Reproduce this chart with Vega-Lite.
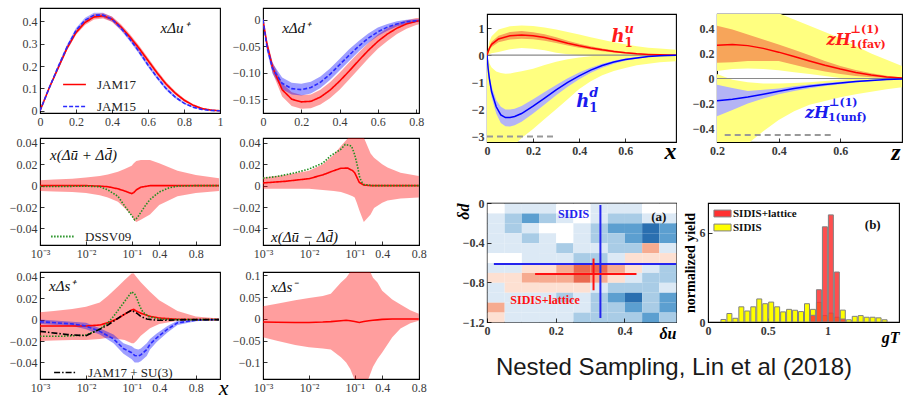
{
"$schema":"https://vega.github.io/schema/vega-lite/v6.json",
"background":"white",
"padding":{"left":8,"top":7,"right":0,"bottom":0},
"config":{
 "view":{"stroke":"#000","strokeWidth":1.1},
 "axis":{"grid":false,"domain":false,"tickSize":-4,"tickColor":"#000","tickWidth":0.8,"labelFont":"Liberation Serif","labelFontSize":12,"labelColor":"#3a3a3a","labelPadding":7,"labelFlush":false,"labelOverlap":false,"labelSeparation":0,"titleFont":"Liberation Serif","titleColor":"#000","titleFontWeight":"normal"},
 "text":{"font":"Liberation Serif"}
},
"datasets":{
 "one":[{"k":1}],
 "p1":[
  {"x":0,"s":"JAM17","y":0,"lo":0,"hi":0},{"x":0.05,"s":"JAM17","y":0.1,"lo":0.095,"hi":0.105},{"x":0.1,"s":"JAM17","y":0.19,"lo":0.182,"hi":0.198},{"x":0.15,"s":"JAM17","y":0.28,"lo":0.27,"hi":0.29},{"x":0.2,"s":"JAM17","y":0.35,"lo":0.34,"hi":0.36},{"x":0.25,"s":"JAM17","y":0.395,"lo":0.384,"hi":0.406},{"x":0.3,"s":"JAM17","y":0.42,"lo":0.408,"hi":0.432},{"x":0.35,"s":"JAM17","y":0.425,"lo":0.413,"hi":0.437},{"x":0.4,"s":"JAM17","y":0.41,"lo":0.398,"hi":0.422},{"x":0.45,"s":"JAM17","y":0.375,"lo":0.363,"hi":0.387},{"x":0.5,"s":"JAM17","y":0.33,"lo":0.318,"hi":0.342},{"x":0.55,"s":"JAM17","y":0.28,"lo":0.268,"hi":0.292},{"x":0.6,"s":"JAM17","y":0.225,"lo":0.213,"hi":0.237},{"x":0.65,"s":"JAM17","y":0.17,"lo":0.159,"hi":0.181},{"x":0.7,"s":"JAM17","y":0.12,"lo":0.11,"hi":0.13},{"x":0.75,"s":"JAM17","y":0.08,"lo":0.072,"hi":0.088},{"x":0.8,"s":"JAM17","y":0.048,"lo":0.041,"hi":0.055},{"x":0.85,"s":"JAM17","y":0.025,"lo":0.02,"hi":0.03},{"x":0.9,"s":"JAM17","y":0.01,"lo":0.006,"hi":0.014},{"x":0.95,"s":"JAM17","y":0.003,"lo":0.001,"hi":0.005},{"x":1,"s":"JAM17","y":0,"lo":0,"hi":0.001},
  {"x":0,"s":"JAM15","y":0,"lo":0,"hi":0},{"x":0.05,"s":"JAM15","y":0.1,"lo":0.094,"hi":0.106},{"x":0.1,"s":"JAM15","y":0.195,"lo":0.186,"hi":0.204},{"x":0.15,"s":"JAM15","y":0.285,"lo":0.275,"hi":0.295},{"x":0.2,"s":"JAM15","y":0.36,"lo":0.349,"hi":0.371},{"x":0.25,"s":"JAM15","y":0.405,"lo":0.394,"hi":0.416},{"x":0.3,"s":"JAM15","y":0.428,"lo":0.417,"hi":0.439},{"x":0.35,"s":"JAM15","y":0.428,"lo":0.417,"hi":0.439},{"x":0.4,"s":"JAM15","y":0.41,"lo":0.399,"hi":0.421},{"x":0.45,"s":"JAM15","y":0.37,"lo":0.359,"hi":0.381},{"x":0.5,"s":"JAM15","y":0.32,"lo":0.31,"hi":0.33},{"x":0.55,"s":"JAM15","y":0.265,"lo":0.255,"hi":0.275},{"x":0.6,"s":"JAM15","y":0.205,"lo":0.196,"hi":0.214},{"x":0.65,"s":"JAM15","y":0.15,"lo":0.142,"hi":0.158},{"x":0.7,"s":"JAM15","y":0.1,"lo":0.093,"hi":0.107},{"x":0.75,"s":"JAM15","y":0.062,"lo":0.056,"hi":0.068},{"x":0.8,"s":"JAM15","y":0.034,"lo":0.03,"hi":0.038},{"x":0.85,"s":"JAM15","y":0.016,"lo":0.013,"hi":0.019},{"x":0.9,"s":"JAM15","y":0.006,"lo":0.004,"hi":0.008},{"x":0.95,"s":"JAM15","y":0.001,"lo":0,"hi":0.002},{"x":1,"s":"JAM15","y":0,"lo":0,"hi":0}
 ],
 "p2":[
  {"x":0,"s":"JAM17","y":0,"lo":0,"hi":0},{"x":0.02,"s":"JAM17","y":-0.045,"lo":-0.052,"hi":-0.038},{"x":0.05,"s":"JAM17","y":-0.09,"lo":-0.1,"hi":-0.08},{"x":0.1,"s":"JAM17","y":-0.132,"lo":-0.145,"hi":-0.12},{"x":0.15,"s":"JAM17","y":-0.15,"lo":-0.163,"hi":-0.137},{"x":0.2,"s":"JAM17","y":-0.155,"lo":-0.168,"hi":-0.142},{"x":0.25,"s":"JAM17","y":-0.154,"lo":-0.167,"hi":-0.141},{"x":0.3,"s":"JAM17","y":-0.146,"lo":-0.16,"hi":-0.132},{"x":0.35,"s":"JAM17","y":-0.133,"lo":-0.148,"hi":-0.118},{"x":0.4,"s":"JAM17","y":-0.116,"lo":-0.132,"hi":-0.1},{"x":0.45,"s":"JAM17","y":-0.097,"lo":-0.113,"hi":-0.081},{"x":0.5,"s":"JAM17","y":-0.077,"lo":-0.093,"hi":-0.062},{"x":0.55,"s":"JAM17","y":-0.058,"lo":-0.073,"hi":-0.044},{"x":0.6,"s":"JAM17","y":-0.041,"lo":-0.055,"hi":-0.028},{"x":0.65,"s":"JAM17","y":-0.027,"lo":-0.04,"hi":-0.016},{"x":0.7,"s":"JAM17","y":-0.016,"lo":-0.027,"hi":-0.007},{"x":0.75,"s":"JAM17","y":-0.008,"lo":-0.017,"hi":-0.001},{"x":0.8,"s":"JAM17","y":-0.003,"lo":-0.01,"hi":0.003},{"x":0.85,"s":"JAM17","y":0,"lo":-0.005,"hi":0.004},
  {"x":0,"s":"JAM15","y":0,"lo":0,"hi":0},{"x":0.02,"s":"JAM15","y":-0.05,"lo":-0.058,"hi":-0.042},{"x":0.05,"s":"JAM15","y":-0.092,"lo":-0.102,"hi":-0.082},{"x":0.1,"s":"JAM15","y":-0.12,"lo":-0.131,"hi":-0.109},{"x":0.15,"s":"JAM15","y":-0.13,"lo":-0.141,"hi":-0.119},{"x":0.2,"s":"JAM15","y":-0.132,"lo":-0.143,"hi":-0.121},{"x":0.25,"s":"JAM15","y":-0.128,"lo":-0.139,"hi":-0.117},{"x":0.3,"s":"JAM15","y":-0.118,"lo":-0.129,"hi":-0.107},{"x":0.35,"s":"JAM15","y":-0.103,"lo":-0.114,"hi":-0.092},{"x":0.4,"s":"JAM15","y":-0.085,"lo":-0.096,"hi":-0.074},{"x":0.45,"s":"JAM15","y":-0.067,"lo":-0.078,"hi":-0.056},{"x":0.5,"s":"JAM15","y":-0.05,"lo":-0.06,"hi":-0.04},{"x":0.55,"s":"JAM15","y":-0.035,"lo":-0.044,"hi":-0.026},{"x":0.6,"s":"JAM15","y":-0.023,"lo":-0.031,"hi":-0.015},{"x":0.65,"s":"JAM15","y":-0.014,"lo":-0.021,"hi":-0.008},{"x":0.7,"s":"JAM15","y":-0.008,"lo":-0.013,"hi":-0.003},{"x":0.75,"s":"JAM15","y":-0.004,"lo":-0.008,"hi":0},{"x":0.8,"s":"JAM15","y":-0.002,"lo":-0.005,"hi":0.001},{"x":0.85,"s":"JAM15","y":-0.001,"lo":-0.003,"hi":0.001}
 ],
 "p3":[
  {"x":0.001,"s":"JAM17","y":0,"lo":-0.005,"hi":0.005},{"x":0.002,"s":"JAM17","y":0,"lo":-0.0055,"hi":0.0058},{"x":0.005,"s":"JAM17","y":0,"lo":-0.006,"hi":0.0065},{"x":0.01,"s":"JAM17","y":0,"lo":-0.007,"hi":0.0075},{"x":0.02,"s":"JAM17","y":-0.0005,"lo":-0.009,"hi":0.009},{"x":0.03,"s":"JAM17","y":-0.001,"lo":-0.011,"hi":0.0105},{"x":0.05,"s":"JAM17","y":-0.003,"lo":-0.015,"hi":0.013},{"x":0.07,"s":"JAM17","y":-0.005,"lo":-0.021,"hi":0.0155},{"x":0.1,"s":"JAM17","y":-0.0075,"lo":-0.028,"hi":0.0185},{"x":0.12,"s":"JAM17","y":-0.0065,"lo":-0.032,"hi":0.021},{"x":0.15,"s":"JAM17","y":-0.004,"lo":-0.034,"hi":0.023},{"x":0.2,"s":"JAM17","y":-0.0015,"lo":-0.032,"hi":0.024},{"x":0.3,"s":"JAM17","y":0,"lo":-0.027,"hi":0.024},{"x":0.4,"s":"JAM17","y":0,"lo":-0.018,"hi":0.021},{"x":0.6,"s":"JAM17","y":0,"lo":-0.01,"hi":0.014},{"x":0.8,"s":"JAM17","y":0,"lo":-0.007,"hi":0.01},{"x":1,"s":"JAM17","y":0,"lo":-0.005,"hi":0.007},
  {"x":0.001,"s":"DSSV09","y":-0.0008},{"x":0.003,"s":"DSSV09","y":-0.0008},{"x":0.01,"s":"DSSV09","y":-0.0005},{"x":0.02,"s":"DSSV09","y":-0.001},{"x":0.03,"s":"DSSV09","y":-0.004},{"x":0.05,"s":"DSSV09","y":-0.01},{"x":0.07,"s":"DSSV09","y":-0.019},{"x":0.1,"s":"DSSV09","y":-0.028},{"x":0.13,"s":"DSSV09","y":-0.032},{"x":0.16,"s":"DSSV09","y":-0.03},{"x":0.2,"s":"DSSV09","y":-0.025},{"x":0.25,"s":"DSSV09","y":-0.018},{"x":0.3,"s":"DSSV09","y":-0.013},{"x":0.4,"s":"DSSV09","y":-0.006},{"x":0.5,"s":"DSSV09","y":-0.002},{"x":0.6,"s":"DSSV09","y":-0.0005},{"x":0.8,"s":"DSSV09","y":0},{"x":1,"s":"DSSV09","y":0}
 ],
 "p4":[
  {"x":0.001,"s":"JAM17","y":0.0025,"lo":-0.003,"hi":0.0075},{"x":0.003,"s":"JAM17","y":0.004,"lo":-0.003,"hi":0.01},{"x":0.01,"s":"JAM17","y":0.0065,"lo":-0.003,"hi":0.014},{"x":0.02,"s":"JAM17","y":0.01,"lo":-0.004,"hi":0.02},{"x":0.035,"s":"JAM17","y":0.014,"lo":-0.005,"hi":0.029},{"x":0.05,"s":"JAM17","y":0.0162,"lo":-0.006,"hi":0.037},{"x":0.07,"s":"JAM17","y":0.0164,"lo":-0.008,"hi":0.044},{"x":0.09,"s":"JAM17","y":0.014,"lo":-0.01,"hi":0.05},{"x":0.1,"s":"JAM17","y":0.012,"lo":-0.011,"hi":0.05},{"x":0.12,"s":"JAM17","y":0.008,"lo":-0.016,"hi":0.05},{"x":0.15,"s":"JAM17","y":0.003,"lo":-0.023,"hi":0.05},{"x":0.2,"s":"JAM17","y":0.0005,"lo":-0.034,"hi":0.045},{"x":0.27,"s":"JAM17","y":0,"lo":-0.027,"hi":0.03},{"x":0.31,"s":"JAM17","y":0,"lo":-0.021,"hi":0.026},{"x":0.4,"s":"JAM17","y":0,"lo":-0.016,"hi":0.02},{"x":0.45,"s":"JAM17","y":0,"lo":-0.014,"hi":0.017},{"x":0.6,"s":"JAM17","y":0,"lo":-0.012,"hi":0.012},{"x":0.8,"s":"JAM17","y":0,"lo":-0.011,"hi":0.009},
  {"x":0.001,"s":"DSSV09","y":0.007},{"x":0.002,"s":"DSSV09","y":0.0085},{"x":0.005,"s":"DSSV09","y":0.012},{"x":0.01,"s":"DSSV09","y":0.0155},{"x":0.02,"s":"DSSV09","y":0.021},{"x":0.03,"s":"DSSV09","y":0.028},{"x":0.05,"s":"DSSV09","y":0.034},{"x":0.062,"s":"DSSV09","y":0.0385},{"x":0.085,"s":"DSSV09","y":0.037},{"x":0.1,"s":"DSSV09","y":0.029},{"x":0.12,"s":"DSSV09","y":0.021},{"x":0.135,"s":"DSSV09","y":0.0155},{"x":0.15,"s":"DSSV09","y":0.009},{"x":0.17,"s":"DSSV09","y":0.004},{"x":0.2,"s":"DSSV09","y":0.001},{"x":0.3,"s":"DSSV09","y":0},{"x":0.8,"s":"DSSV09","y":0}
 ],
 "p5":[
  {"x":0.001,"s":"JAM17","y":-0.006,"lo":-0.02,"hi":0.007},{"x":0.002,"s":"JAM17","y":-0.006,"lo":-0.0195,"hi":0.008},{"x":0.005,"s":"JAM17","y":-0.006,"lo":-0.019,"hi":0.01},{"x":0.01,"s":"JAM17","y":-0.006,"lo":-0.019,"hi":0.012},{"x":0.02,"s":"JAM17","y":-0.005,"lo":-0.018,"hi":0.016},{"x":0.03,"s":"JAM17","y":-0.003,"lo":-0.017,"hi":0.022},{"x":0.05,"s":"JAM17","y":0.001,"lo":-0.018,"hi":0.031},{"x":0.07,"s":"JAM17","y":0.005,"lo":-0.019,"hi":0.037},{"x":0.1,"s":"JAM17","y":0.009,"lo":-0.022,"hi":0.043},{"x":0.12,"s":"JAM17","y":0.0095,"lo":-0.022,"hi":0.043},{"x":0.15,"s":"JAM17","y":0.008,"lo":-0.02,"hi":0.04},{"x":0.2,"s":"JAM17","y":0.006,"lo":-0.015,"hi":0.035},{"x":0.3,"s":"JAM17","y":0.003,"lo":-0.008,"hi":0.026},{"x":0.4,"s":"JAM17","y":0.0015,"lo":-0.004,"hi":0.018},{"x":0.6,"s":"JAM17","y":0.0003,"lo":-0.001,"hi":0.008},{"x":0.8,"s":"JAM17","y":0,"lo":-0.0005,"hi":0.003},{"x":1,"s":"JAM17","y":0,"lo":0,"hi":0.001},
  {"x":0.001,"s":"JAM15","y":-0.002,"lo":-0.004,"hi":0},{"x":0.005,"s":"JAM15","y":-0.004,"lo":-0.006,"hi":-0.002},{"x":0.01,"s":"JAM15","y":-0.006,"lo":-0.009,"hi":-0.003},{"x":0.02,"s":"JAM15","y":-0.011,"lo":-0.014,"hi":-0.008},{"x":0.04,"s":"JAM15","y":-0.018,"lo":-0.022,"hi":-0.014},{"x":0.066,"s":"JAM15","y":-0.027,"lo":-0.032,"hi":-0.022},{"x":0.1,"s":"JAM15","y":-0.031,"lo":-0.037,"hi":-0.025},{"x":0.13,"s":"JAM15","y":-0.0335,"lo":-0.04,"hi":-0.027},{"x":0.17,"s":"JAM15","y":-0.034,"lo":-0.04,"hi":-0.028},{"x":0.2,"s":"JAM15","y":-0.033,"lo":-0.039,"hi":-0.027},{"x":0.26,"s":"JAM15","y":-0.028,"lo":-0.034,"hi":-0.022},{"x":0.3,"s":"JAM15","y":-0.023,"lo":-0.028,"hi":-0.018},{"x":0.37,"s":"JAM15","y":-0.017,"lo":-0.021,"hi":-0.013},{"x":0.48,"s":"JAM15","y":-0.009,"lo":-0.012,"hi":-0.006},{"x":0.6,"s":"JAM15","y":-0.003,"lo":-0.005,"hi":-0.001},{"x":0.8,"s":"JAM15","y":-0.0005,"lo":-0.0015,"hi":0.0005},{"x":1,"s":"JAM15","y":0,"lo":0,"hi":0},
  {"x":0.001,"s":"DSSV09","y":-0.0155},{"x":0.003,"s":"DSSV09","y":-0.0155},{"x":0.01,"s":"DSSV09","y":-0.0145},{"x":0.02,"s":"DSSV09","y":-0.009},{"x":0.03,"s":"DSSV09","y":-0.003},{"x":0.04,"s":"DSSV09","y":0.003},{"x":0.066,"s":"DSSV09","y":0.0155},{"x":0.1,"s":"DSSV09","y":0.026},{"x":0.13,"s":"DSSV09","y":0.024},{"x":0.155,"s":"DSSV09","y":0.02},{"x":0.19,"s":"DSSV09","y":0.012},{"x":0.22,"s":"DSSV09","y":0.007},{"x":0.28,"s":"DSSV09","y":0.003},{"x":0.4,"s":"DSSV09","y":0.0005},{"x":0.6,"s":"DSSV09","y":0},{"x":1,"s":"DSSV09","y":0},
  {"x":0.001,"s":"JAM17 + SU(3)","y":-0.011},{"x":0.004,"s":"JAM17 + SU(3)","y":-0.014},{"x":0.01,"s":"JAM17 + SU(3)","y":-0.015},{"x":0.02,"s":"JAM17 + SU(3)","y":-0.009},{"x":0.03,"s":"JAM17 + SU(3)","y":-0.005},{"x":0.04,"s":"JAM17 + SU(3)","y":-0.0015},{"x":0.066,"s":"JAM17 + SU(3)","y":0.0046},{"x":0.1,"s":"JAM17 + SU(3)","y":0.0087},{"x":0.155,"s":"JAM17 + SU(3)","y":0.006},{"x":0.2,"s":"JAM17 + SU(3)","y":0.003},{"x":0.26,"s":"JAM17 + SU(3)","y":0.0006},{"x":0.37,"s":"JAM17 + SU(3)","y":-0.0006},{"x":0.5,"s":"JAM17 + SU(3)","y":-0.0005},{"x":0.7,"s":"JAM17 + SU(3)","y":0},{"x":1,"s":"JAM17 + SU(3)","y":0}
 ],
 "p6":[
  {"x":0.001,"s":"JAM17","y":-0.007,"lo":-0.042,"hi":0.029},{"x":0.002,"s":"JAM17","y":-0.0075,"lo":-0.05,"hi":0.035},{"x":0.005,"s":"JAM17","y":-0.008,"lo":-0.06,"hi":0.043},{"x":0.01,"s":"JAM17","y":-0.008,"lo":-0.065,"hi":0.048},{"x":0.02,"s":"JAM17","y":-0.007,"lo":-0.068,"hi":0.053},{"x":0.03,"s":"JAM17","y":-0.006,"lo":-0.07,"hi":0.058},{"x":0.05,"s":"JAM17","y":-0.004,"lo":-0.088,"hi":0.084},{"x":0.065,"s":"JAM17","y":-0.003,"lo":-0.1,"hi":0.095},{"x":0.08,"s":"JAM17","y":-0.004,"lo":-0.115,"hi":0.108},{"x":0.1,"s":"JAM17","y":-0.006,"lo":-0.14,"hi":0.13},{"x":0.15,"s":"JAM17","y":-0.008,"lo":-0.16,"hi":0.15},{"x":0.2,"s":"JAM17","y":-0.006,"lo":-0.16,"hi":0.14},{"x":0.25,"s":"JAM17","y":-0.004,"lo":-0.135,"hi":0.115},{"x":0.3,"s":"JAM17","y":-0.003,"lo":-0.11,"hi":0.095},{"x":0.345,"s":"JAM17","y":-0.002,"lo":-0.092,"hi":0.084},{"x":0.4,"s":"JAM17","y":-0.001,"lo":-0.077,"hi":0.065},{"x":0.5,"s":"JAM17","y":0,"lo":-0.042,"hi":0.045},{"x":0.6,"s":"JAM17","y":0,"lo":-0.022,"hi":0.033},{"x":0.7,"s":"JAM17","y":0,"lo":-0.01,"hi":0.02},{"x":0.8,"s":"JAM17","y":0,"lo":-0.004,"hi":0.012}
 ],
 "p7":[
  {"x":0,"s":"u","y":0,"lo":0,"hi":0,"ylo":0,"yhi":0},{"x":0.01,"s":"u","y":0.25,"lo":0.18,"hi":0.32,"ylo":0.04,"yhi":0.5},{"x":0.02,"s":"u","y":0.4,"lo":0.3,"hi":0.5,"ylo":0.07,"yhi":0.7},{"x":0.05,"s":"u","y":0.6,"lo":0.48,"hi":0.72,"ylo":0.12,"yhi":0.95},{"x":0.1,"s":"u","y":0.72,"lo":0.58,"hi":0.86,"ylo":0.22,"yhi":1.07},{"x":0.15,"s":"u","y":0.75,"lo":0.61,"hi":0.89,"ylo":0.27,"yhi":1.1},{"x":0.2,"s":"u","y":0.72,"lo":0.59,"hi":0.85,"ylo":0.24,"yhi":1.08},{"x":0.25,"s":"u","y":0.65,"lo":0.53,"hi":0.77,"ylo":0.18,"yhi":1.02},{"x":0.3,"s":"u","y":0.55,"lo":0.45,"hi":0.66,"ylo":0.09,"yhi":0.95},{"x":0.35,"s":"u","y":0.44,"lo":0.36,"hi":0.53,"ylo":0.04,"yhi":0.86},{"x":0.4,"s":"u","y":0.35,"lo":0.28,"hi":0.42,"ylo":0,"yhi":0.76},{"x":0.45,"s":"u","y":0.27,"lo":0.21,"hi":0.33,"ylo":-0.03,"yhi":0.66},{"x":0.5,"s":"u","y":0.2,"lo":0.15,"hi":0.25,"ylo":-0.06,"yhi":0.57},{"x":0.55,"s":"u","y":0.14,"lo":0.1,"hi":0.18,"ylo":-0.08,"yhi":0.48},{"x":0.6,"s":"u","y":0.09,"lo":0.06,"hi":0.12,"ylo":-0.1,"yhi":0.4},{"x":0.65,"s":"u","y":0.055,"lo":0.03,"hi":0.08,"ylo":-0.12,"yhi":0.33},{"x":0.7,"s":"u","y":0.03,"lo":0.015,"hi":0.045,"ylo":-0.13,"yhi":0.28},{"x":0.75,"s":"u","y":0.013,"lo":0.005,"hi":0.02,"ylo":-0.14,"yhi":0.25},{"x":0.82,"s":"u","y":0.002,"lo":0,"hi":0.005,"ylo":-0.15,"yhi":0.2},
  {"x":0,"s":"d","y":0,"lo":0,"hi":0,"ylo":-3.3,"yhi":0},{"x":0.005,"s":"d","y":-0.5,"lo":-0.6,"hi":-0.4,"ylo":-3.3,"yhi":-0.15},{"x":0.01,"s":"d","y":-0.85,"lo":-1,"hi":-0.7,"ylo":-3.3,"yhi":-0.3},{"x":0.02,"s":"d","y":-1.35,"lo":-1.55,"hi":-1.15,"ylo":-3.3,"yhi":-0.45},{"x":0.04,"s":"d","y":-1.9,"lo":-2.15,"hi":-1.65,"ylo":-3.3,"yhi":-0.6},{"x":0.06,"s":"d","y":-2.2,"lo":-2.5,"hi":-1.9,"ylo":-3.3,"yhi":-0.66},{"x":0.08,"s":"d","y":-2.3,"lo":-2.62,"hi":-2,"ylo":-3.3,"yhi":-0.68},{"x":0.1,"s":"d","y":-2.3,"lo":-2.63,"hi":-2,"ylo":-3.3,"yhi":-0.67},{"x":0.12,"s":"d","y":-2.26,"lo":-2.58,"hi":-1.97,"ylo":-3.3,"yhi":-0.64},{"x":0.15,"s":"d","y":-2.15,"lo":-2.45,"hi":-1.87,"ylo":-3.05,"yhi":-0.59},{"x":0.2,"s":"d","y":-1.88,"lo":-2.15,"hi":-1.62,"ylo":-2.72,"yhi":-0.5},{"x":0.25,"s":"d","y":-1.58,"lo":-1.82,"hi":-1.36,"ylo":-2.35,"yhi":-0.36},{"x":0.3,"s":"d","y":-1.28,"lo":-1.48,"hi":-1.1,"ylo":-1.99,"yhi":-0.24},{"x":0.35,"s":"d","y":-1,"lo":-1.16,"hi":-0.85,"ylo":-1.62,"yhi":-0.15},{"x":0.4,"s":"d","y":-0.76,"lo":-0.89,"hi":-0.64,"ylo":-1.25,"yhi":-0.08},{"x":0.45,"s":"d","y":-0.55,"lo":-0.65,"hi":-0.46,"ylo":-0.96,"yhi":-0.04},{"x":0.5,"s":"d","y":-0.38,"lo":-0.46,"hi":-0.31,"ylo":-0.74,"yhi":0},{"x":0.55,"s":"d","y":-0.25,"lo":-0.31,"hi":-0.2,"ylo":-0.58,"yhi":0.04},{"x":0.6,"s":"d","y":-0.16,"lo":-0.2,"hi":-0.12,"ylo":-0.47,"yhi":0.07},{"x":0.65,"s":"d","y":-0.1,"lo":-0.13,"hi":-0.07,"ylo":-0.37,"yhi":0.09},{"x":0.7,"s":"d","y":-0.05,"lo":-0.07,"hi":-0.03,"ylo":-0.31,"yhi":0.11},{"x":0.75,"s":"d","y":-0.02,"lo":-0.035,"hi":-0.01,"ylo":-0.26,"yhi":0.13},{"x":0.82,"s":"d","y":-0.005,"lo":-0.01,"hi":0,"ylo":-0.22,"yhi":0.14}
 ],
 "p8":[
  {"x":0.2,"s":"fav","y":0.265,"lo":0.125,"hi":0.42,"ylo":0.06,"yhi":0.8},{"x":0.25,"s":"fav","y":0.27,"lo":0.13,"hi":0.39,"ylo":0.075,"yhi":0.75},{"x":0.3,"s":"fav","y":0.262,"lo":0.14,"hi":0.35,"ylo":0.08,"yhi":0.68},{"x":0.35,"s":"fav","y":0.24,"lo":0.14,"hi":0.31,"ylo":0.075,"yhi":0.6},{"x":0.4,"s":"fav","y":0.21,"lo":0.14,"hi":0.27,"ylo":0.065,"yhi":0.52},{"x":0.45,"s":"fav","y":0.175,"lo":0.11,"hi":0.23,"ylo":0.05,"yhi":0.47},{"x":0.5,"s":"fav","y":0.14,"lo":0.08,"hi":0.185,"ylo":0.035,"yhi":0.42},{"x":0.55,"s":"fav","y":0.105,"lo":0.055,"hi":0.14,"ylo":0.02,"yhi":0.37},{"x":0.6,"s":"fav","y":0.075,"lo":0.035,"hi":0.1,"ylo":0.005,"yhi":0.32},{"x":0.65,"s":"fav","y":0.048,"lo":0.02,"hi":0.068,"ylo":-0.005,"yhi":0.26},{"x":0.7,"s":"fav","y":0.027,"lo":0.01,"hi":0.042,"ylo":-0.012,"yhi":0.2},{"x":0.75,"s":"fav","y":0.012,"lo":0.004,"hi":0.022,"ylo":-0.018,"yhi":0.15},{"x":0.8,"s":"fav","y":0.004,"lo":0.001,"hi":0.008,"ylo":-0.02,"yhi":0.1},
  {"x":0.2,"s":"unf","y":-0.177,"lo":-0.3,"hi":-0.05,"ylo":-0.8,"yhi":0.035},{"x":0.25,"s":"unf","y":-0.165,"lo":-0.25,"hi":-0.075,"ylo":-0.65,"yhi":-0.01},{"x":0.3,"s":"unf","y":-0.148,"lo":-0.2,"hi":-0.1,"ylo":-0.52,"yhi":-0.03},{"x":0.35,"s":"unf","y":-0.125,"lo":-0.16,"hi":-0.09,"ylo":-0.42,"yhi":-0.04},{"x":0.4,"s":"unf","y":-0.102,"lo":-0.125,"hi":-0.08,"ylo":-0.33,"yhi":-0.04},{"x":0.45,"s":"unf","y":-0.08,"lo":-0.1,"hi":-0.062,"ylo":-0.26,"yhi":-0.035},{"x":0.5,"s":"unf","y":-0.062,"lo":-0.078,"hi":-0.047,"ylo":-0.21,"yhi":-0.03},{"x":0.55,"s":"unf","y":-0.047,"lo":-0.06,"hi":-0.035,"ylo":-0.18,"yhi":-0.02},{"x":0.6,"s":"unf","y":-0.035,"lo":-0.045,"hi":-0.026,"ylo":-0.15,"yhi":-0.01},{"x":0.65,"s":"unf","y":-0.024,"lo":-0.032,"hi":-0.017,"ylo":-0.125,"yhi":0},{"x":0.7,"s":"unf","y":-0.015,"lo":-0.021,"hi":-0.01,"ylo":-0.105,"yhi":0.005},{"x":0.75,"s":"unf","y":-0.008,"lo":-0.012,"hi":-0.005,"ylo":-0.085,"yhi":0.008},{"x":0.8,"s":"unf","y":-0.003,"lo":-0.005,"hi":-0.001,"ylo":-0.07,"yhi":0.01}
 ],
 "cont":[
  {"u":0,"d":-0.1,"v":0},{"u":0.05,"d":-0.1,"v":1},{"u":0.1,"d":-0.1,"v":1},{"u":0.15,"d":-0.1,"v":1},{"u":0.2,"d":-0.1,"v":0},{"u":0.25,"d":-0.1,"v":0},{"u":0.3,"d":-0.1,"v":1},{"u":0.35,"d":-0.1,"v":1},{"u":0.4,"d":-0.1,"v":1},{"u":0.45,"d":-0.1,"v":0},{"u":0.5,"d":-0.1,"v":0},
  {"u":0,"d":-0.2,"v":1},{"u":0.05,"d":-0.2,"v":2},{"u":0.1,"d":-0.2,"v":3},{"u":0.15,"d":-0.2,"v":2},{"u":0.2,"d":-0.2,"v":1},{"u":0.25,"d":-0.2,"v":0},{"u":0.3,"d":-0.2,"v":1},{"u":0.35,"d":-0.2,"v":2},{"u":0.4,"d":-0.2,"v":2},{"u":0.45,"d":-0.2,"v":1},{"u":0.5,"d":-0.2,"v":1},
  {"u":0,"d":-0.3,"v":1},{"u":0.05,"d":-0.3,"v":2},{"u":0.1,"d":-0.3,"v":1},{"u":0.15,"d":-0.3,"v":0},{"u":0.2,"d":-0.3,"v":0},{"u":0.25,"d":-0.3,"v":1},{"u":0.3,"d":-0.3,"v":2},{"u":0.35,"d":-0.3,"v":3},{"u":0.4,"d":-0.3,"v":3},{"u":0.45,"d":-0.3,"v":4},{"u":0.5,"d":-0.3,"v":3},
  {"u":0,"d":-0.4,"v":1},{"u":0.05,"d":-0.4,"v":1},{"u":0.1,"d":-0.4,"v":2},{"u":0.15,"d":-0.4,"v":1},{"u":0.2,"d":-0.4,"v":0},{"u":0.25,"d":-0.4,"v":1},{"u":0.3,"d":-0.4,"v":2},{"u":0.35,"d":-0.4,"v":2},{"u":0.4,"d":-0.4,"v":3},{"u":0.45,"d":-0.4,"v":4},{"u":0.5,"d":-0.4,"v":3},
  {"u":0,"d":-0.5,"v":1},{"u":0.05,"d":-0.5,"v":1},{"u":0.1,"d":-0.5,"v":1},{"u":0.15,"d":-0.5,"v":1},{"u":0.2,"d":-0.5,"v":2},{"u":0.25,"d":-0.5,"v":1},{"u":0.3,"d":-0.5,"v":1},{"u":0.35,"d":-0.5,"v":2},{"u":0.4,"d":-0.5,"v":2},{"u":0.45,"d":-0.5,"v":-2},{"u":0.5,"d":-0.5,"v":1},
  {"u":0,"d":-0.6,"v":0},{"u":0.05,"d":-0.6,"v":0},{"u":0.1,"d":-0.6,"v":1},{"u":0.15,"d":-0.6,"v":1},{"u":0.2,"d":-0.6,"v":1},{"u":0.25,"d":-0.6,"v":2},{"u":0.3,"d":-0.6,"v":2},{"u":0.35,"d":-0.6,"v":1},{"u":0.4,"d":-0.6,"v":-1},{"u":0.45,"d":-0.6,"v":-1},{"u":0.5,"d":-0.6,"v":-1},
  {"u":0,"d":-0.7,"v":1},{"u":0.05,"d":-0.7,"v":1},{"u":0.1,"d":-0.7,"v":-1},{"u":0.15,"d":-0.7,"v":-1},{"u":0.2,"d":-0.7,"v":-2},{"u":0.25,"d":-0.7,"v":-3},{"u":0.3,"d":-0.7,"v":-3},{"u":0.35,"d":-0.7,"v":-2},{"u":0.4,"d":-0.7,"v":-1},{"u":0.45,"d":-0.7,"v":1},{"u":0.5,"d":-0.7,"v":2},
  {"u":0,"d":-0.8,"v":-1},{"u":0.05,"d":-0.8,"v":-1},{"u":0.1,"d":-0.8,"v":-2},{"u":0.15,"d":-0.8,"v":-2},{"u":0.2,"d":-0.8,"v":-2},{"u":0.25,"d":-0.8,"v":-3},{"u":0.3,"d":-0.8,"v":-2},{"u":0.35,"d":-0.8,"v":-1},{"u":0.4,"d":-0.8,"v":1},{"u":0.45,"d":-0.8,"v":2},{"u":0.5,"d":-0.8,"v":2},
  {"u":0,"d":-0.9,"v":1},{"u":0.05,"d":-0.9,"v":-1},{"u":0.1,"d":-0.9,"v":-1},{"u":0.15,"d":-0.9,"v":-1},{"u":0.2,"d":-0.9,"v":-1},{"u":0.25,"d":-0.9,"v":-1},{"u":0.3,"d":-0.9,"v":1},{"u":0.35,"d":-0.9,"v":2},{"u":0.4,"d":-0.9,"v":2},{"u":0.45,"d":-0.9,"v":2},{"u":0.5,"d":-0.9,"v":1},
  {"u":0,"d":-1,"v":1},{"u":0.05,"d":-1,"v":1},{"u":0.1,"d":-1,"v":1},{"u":0.15,"d":-1,"v":1},{"u":0.2,"d":-1,"v":2},{"u":0.25,"d":-1,"v":1},{"u":0.3,"d":-1,"v":2},{"u":0.35,"d":-1,"v":3},{"u":0.4,"d":-1,"v":4},{"u":0.45,"d":-1,"v":2},{"u":0.5,"d":-1,"v":3},
  {"u":0,"d":-1.1,"v":-2},{"u":0.05,"d":-1.1,"v":1},{"u":0.1,"d":-1.1,"v":1},{"u":0.15,"d":-1.1,"v":1},{"u":0.2,"d":-1.1,"v":1},{"u":0.25,"d":-1.1,"v":1},{"u":0.3,"d":-1.1,"v":2},{"u":0.35,"d":-1.1,"v":2},{"u":0.4,"d":-1.1,"v":3},{"u":0.45,"d":-1.1,"v":2},{"u":0.5,"d":-1.1,"v":3},
  {"u":0,"d":-1.2,"v":-1},{"u":0.05,"d":-1.2,"v":1},{"u":0.1,"d":-1.2,"v":1},{"u":0.15,"d":-1.2,"v":1},{"u":0.2,"d":-1.2,"v":1},{"u":0.25,"d":-1.2,"v":2},{"u":0.3,"d":-1.2,"v":2},{"u":0.35,"d":-1.2,"v":2},{"u":0.4,"d":-1.2,"v":2},{"u":0.45,"d":-1.2,"v":3},{"u":0.5,"d":-1.2,"v":2}
 ],
 "cross":[
  {"x":0.33,"x2":0.33,"y":-1.16,"y2":-0.02,"c":"SIDIS"},{"x":0.02,"x2":0.55,"y":-0.615,"y2":-0.615,"c":"SIDIS"},
  {"x":0.31,"x2":0.31,"y":-0.88,"y2":-0.56,"c":"lattice"},{"x":0.14,"x2":0.435,"y":-0.716,"y2":-0.716,"c":"lattice"}
 ],
 "hist":[
  {"g":0.1,"h":0.17,"set":"SIDIS"},{"g":0.15,"h":0.57,"set":"SIDIS"},{"g":0.2,"h":0.25,"set":"SIDIS"},{"g":0.25,"h":1.02,"set":"SIDIS"},{"g":0.3,"h":0.74,"set":"SIDIS"},{"g":0.35,"h":1.02,"set":"SIDIS"},{"g":0.4,"h":1.55,"set":"SIDIS"},{"g":0.45,"h":1.23,"set":"SIDIS"},{"g":0.5,"h":1.34,"set":"SIDIS"},{"g":0.55,"h":1.02,"set":"SIDIS"},{"g":0.6,"h":0.68,"set":"SIDIS"},{"g":0.65,"h":0.85,"set":"SIDIS"},{"g":0.7,"h":0.79,"set":"SIDIS"},{"g":0.75,"h":0.7,"set":"SIDIS"},{"g":0.8,"h":1.23,"set":"SIDIS"},{"g":0.85,"h":0.85,"set":"SIDIS"},{"g":0.9,"h":1.32,"set":"SIDIS"},{"g":0.95,"h":0.43,"set":"SIDIS"},{"g":1,"h":0.6,"set":"SIDIS"},{"g":1.05,"h":0.32,"set":"SIDIS"},{"g":1.1,"h":0.8,"set":"SIDIS"},{"g":1.15,"h":0.15,"set":"SIDIS"},{"g":1.2,"h":0.38,"set":"SIDIS"},{"g":1.25,"h":0.43,"set":"SIDIS"},{"g":1.3,"h":0.32,"set":"SIDIS"},{"g":1.35,"h":0.32,"set":"SIDIS"},{"g":1.4,"h":0.28,"set":"SIDIS"},{"g":1.45,"h":0.15,"set":"SIDIS"},
  {"g":0.85,"h":0.45,"set":"SIDIS+lattice"},{"g":0.9,"h":2.17,"set":"SIDIS+lattice"},{"g":0.95,"h":6.4,"set":"SIDIS+lattice"},{"g":1,"h":7.2,"set":"SIDIS+lattice"},{"g":1.05,"h":3.36,"set":"SIDIS+lattice"},{"g":1.1,"h":0.2,"set":"SIDIS+lattice"}
 ]
},
"hconcat":[
 {"vconcat":[
  {"hconcat":[
   {"width":180,"height":105,"data":{"name":"p1"},
    "layer":[
     {"transform":[{"filter":"datum.s == 'JAM15'"}],"mark":{"type":"area","opacity":0.32,"color":"#0000ff","clip":true},"encoding":{"x":{"field":"x","type":"quantitative","title":null,"scale":{"domain":[0,1]},"axis":{"values":[0,0.2,0.4,0.6,0.8,1],"format":"~g","labelOverlap":false}},"y":{"field":"lo","type":"quantitative","title":null,"scale":{"domain":[-0.01,0.46]},"axis":{"values":[0,0.1,0.2,0.3,0.4],"format":"~g","labelOverlap":false}},"y2":{"field":"hi"}}},
     {"transform":[{"filter":"datum.s == 'JAM17'"}],"mark":{"type":"area","opacity":0.38,"color":"#ff0000","clip":true},"encoding":{"x":{"field":"x","type":"quantitative","title":null,"scale":{"domain":[0,1]},"axis":{"values":[0,0.2,0.4,0.6,0.8,1],"format":"~g","labelOverlap":false}},"y":{"field":"lo","type":"quantitative","title":null,"scale":{"domain":[-0.01,0.46]},"axis":{"values":[0,0.1,0.2,0.3,0.4],"format":"~g","labelOverlap":false}},"y2":{"field":"hi"}}},
     {"mark":{"type":"line","strokeWidth":1.6,"clip":true},"encoding":{"x":{"field":"x","type":"quantitative","title":null,"scale":{"domain":[0,1]},"axis":{"values":[0,0.2,0.4,0.6,0.8,1],"format":"~g","labelOverlap":false}},"y":{"field":"y","type":"quantitative","title":null,"scale":{"domain":[-0.01,0.46]},"axis":{"values":[0,0.1,0.2,0.3,0.4],"format":"~g","labelOverlap":false}},
      "stroke":{"field":"s","type":"nominal","scale":{"domain":["JAM17","JAM15"],"range":["#ff0000","#2a2aff"]},"legend":{"orient":"none","legendX":22,"legendY":64,"values":["JAM17","JAM15"],"title":null,"symbolType":"stroke","symbolSize":520,"symbolStrokeWidth":1.6,"labelFont":"Liberation Serif","labelFontSize":13,"labelColor":"#222","labelOffset":10}},
      "strokeDash":{"field":"s","type":"nominal","scale":{"domain":["JAM17","JAM15"],"range":[[1,0],[4,2]]},"legend":{"orient":"none","legendX":22,"legendY":64,"values":["JAM17","JAM15"],"title":null,"symbolType":"stroke","symbolSize":520,"symbolStrokeWidth":1.6,"labelFont":"Liberation Serif","labelFontSize":13,"labelColor":"#222","labelOffset":10}}}},
     {"data":{"name":"one"},"mark":{"type":"text","font":"Liberation Serif","fontStyle":"italic","fontSize":15,"align":"left","color":"#111"},"encoding":{"x":{"datum":0.67,"type":"quantitative","title":null,"scale":{"domain":[0,1]},"axis":{"values":[0,0.2,0.4,0.6,0.8,1],"format":"~g","labelOverlap":false}},"y":{"datum":0.37,"type":"quantitative","title":null,"scale":{"domain":[-0.01,0.46]},"axis":{"values":[0,0.1,0.2,0.3,0.4],"format":"~g","labelOverlap":false}},"text":{"value":"xΔu⁺"}}}
    ]},
   {"width":156,"height":105,"data":{"name":"p2"},
    "layer":[
     {"mark":{"type":"area","opacity":0.38,"clip":true},"encoding":{"x":{"field":"x","type":"quantitative","title":null,"scale":{"domain":[0,0.815]},"axis":{"values":[0,0.2,0.4,0.6,0.8],"format":"~g","labelOverlap":false}},"y":{"field":"lo","type":"quantitative","title":null,"scale":{"domain":[-0.176,0.022]},"axis":{"values":[-0.15,-0.1,-0.05,0],"labelOverlap":false,"labelExpr":"datum.value == 0 ? '0' : format(datum.value, '.2f')"}},"y2":{"field":"hi"},"fill":{"field":"s","type":"nominal","scale":{"domain":["JAM17","JAM15"],"range":["#ff0000","#0000ff"]},"legend":null}}},
     {"mark":{"type":"line","strokeWidth":1.6,"clip":true},"encoding":{"x":{"field":"x","type":"quantitative","title":null,"scale":{"domain":[0,0.815]},"axis":{"values":[0,0.2,0.4,0.6,0.8],"format":"~g","labelOverlap":false}},"y":{"field":"y","type":"quantitative","title":null,"scale":{"domain":[-0.176,0.022]},"axis":{"values":[-0.15,-0.1,-0.05,0],"labelOverlap":false,"labelExpr":"datum.value == 0 ? '0' : format(datum.value, '.2f')"}},
      "stroke":{"field":"s","type":"nominal","scale":{"domain":["JAM17","JAM15"],"range":["#ff0000","#2a2aff"]},"legend":null},
      "strokeDash":{"field":"s","type":"nominal","scale":{"domain":["JAM17","JAM15"],"range":[[1,0],[4,2]]},"legend":null}}},
     {"data":{"name":"one"},"mark":{"type":"text","font":"Liberation Serif","fontStyle":"italic","fontSize":15,"align":"left","color":"#111"},"encoding":{"x":{"datum":0.1,"type":"quantitative","title":null,"scale":{"domain":[0,0.815]},"axis":{"values":[0,0.2,0.4,0.6,0.8],"format":"~g","labelOverlap":false}},"y":{"datum":-0.016,"type":"quantitative","title":null,"scale":{"domain":[-0.176,0.022]},"axis":{"values":[-0.15,-0.1,-0.05,0],"labelOverlap":false,"labelExpr":"datum.value == 0 ? '0' : format(datum.value, '.2f')"}},"text":{"value":"xΔd⁺"}}}
    ]}
  ],"spacing":43,"bounds":"flush","resolve":{"scale":{"fill":"independent","stroke":"independent","strokeDash":"independent","color":"independent"}}},
  {"hconcat":[
   {"width":180,"height":107,"data":{"name":"p3"},
    "layer":[
     {"transform":[{"filter":"datum.s == 'JAM17'"}],"mark":{"type":"area","opacity":0.38,"clip":true,"color":"#ff0000"},"encoding":{"x":{"field":"x","type":"quantitative","title":null,"scale":{"type":"log","domain":[0.001,0.01,0.1,0.15,0.2,0.3,0.4,0.6,0.8,1],"range":[0,46,91.7,96.3,100.8,110,119.2,137.5,155.8,179]},"axis":{"values":[0.001,0.01,0.1,0.4,0.8],"labelOverlap":false,"labelExpr":"datum.value < 0.0015 ? '10⁻³' : datum.value < 0.015 ? '10⁻²' : datum.value < 0.15 ? '10⁻¹' : format(datum.value, '.1f')"}},"y":{"field":"lo","type":"quantitative","title":null,"scale":{"domain":[-0.0555,0.0445]},"axis":{"values":[-0.04,-0.02,0,0.02,0.04],"labelOverlap":false,"labelExpr":"datum.value == 0 ? '0' : format(datum.value, '.2f')"}},"y2":{"field":"hi"}}},
     {"mark":{"type":"line","strokeWidth":1.6,"clip":true},"encoding":{"x":{"field":"x","type":"quantitative","title":null,"scale":{"type":"log","domain":[0.001,0.01,0.1,0.15,0.2,0.3,0.4,0.6,0.8,1],"range":[0,46,91.7,96.3,100.8,110,119.2,137.5,155.8,179]},"axis":{"values":[0.001,0.01,0.1,0.4,0.8],"labelOverlap":false,"labelExpr":"datum.value < 0.0015 ? '10⁻³' : datum.value < 0.015 ? '10⁻²' : datum.value < 0.15 ? '10⁻¹' : format(datum.value, '.1f')"}},"y":{"field":"y","type":"quantitative","title":null,"scale":{"domain":[-0.0555,0.0445]},"axis":{"values":[-0.04,-0.02,0,0.02,0.04],"labelOverlap":false,"labelExpr":"datum.value == 0 ? '0' : format(datum.value, '.2f')"}},
      "stroke":{"field":"s","type":"nominal","scale":{"domain":["JAM17","DSSV09"],"range":["#ff0000","#1f8f1f"]},"legend":{"orient":"none","legendX":10,"legendY":86,"values":["DSSV09"],"title":null,"symbolType":"stroke","symbolSize":520,"symbolStrokeWidth":2,"labelFont":"Liberation Serif","labelFontSize":13,"labelColor":"#222","labelOffset":10}},
      "strokeDash":{"field":"s","type":"nominal","scale":{"domain":["JAM17","DSSV09"],"range":[[1,0],[1.5,1.5]]},"legend":{"orient":"none","legendX":10,"legendY":86,"values":["DSSV09"],"title":null,"symbolType":"stroke","symbolSize":520,"symbolStrokeWidth":2,"labelFont":"Liberation Serif","labelFontSize":13,"labelColor":"#222","labelOffset":10}}}},
     {"data":{"name":"one"},"mark":{"type":"text","font":"Liberation Serif","fontStyle":"italic","fontSize":15,"align":"left","color":"#111"},"encoding":{"x":{"datum":0.00165,"type":"quantitative","title":null,"scale":{"type":"log","domain":[0.001,0.01,0.1,0.15,0.2,0.3,0.4,0.6,0.8,1],"range":[0,46,91.7,96.3,100.8,110,119.2,137.5,155.8,179]},"axis":{"values":[0.001,0.01,0.1,0.4,0.8],"labelOverlap":false,"labelExpr":"datum.value < 0.0015 ? '10⁻³' : datum.value < 0.015 ? '10⁻²' : datum.value < 0.15 ? '10⁻¹' : format(datum.value, '.1f')"}},"y":{"datum":0.0286,"type":"quantitative","title":null,"scale":{"domain":[-0.0555,0.0445]},"axis":{"values":[-0.04,-0.02,0,0.02,0.04],"labelOverlap":false,"labelExpr":"datum.value == 0 ? '0' : format(datum.value, '.2f')"}},"text":{"value":"x(Δū + Δd̄)"}}}
    ]},
   {"width":156,"height":107,"data":{"name":"p4"},
    "layer":[
     {"transform":[{"filter":"datum.s == 'JAM17'"}],"mark":{"type":"area","opacity":0.38,"clip":true,"color":"#ff0000"},"encoding":{"x":{"field":"x","type":"quantitative","title":null,"scale":{"type":"log","domain":[0.001,0.01,0.1,0.15,0.2,0.3,0.4,0.6,0.8],"range":[0,46,91.7,96.3,100.8,110,119.2,137.5,155.8]},"axis":{"values":[0.001,0.01,0.1,0.4,0.8],"labelOverlap":false,"labelExpr":"datum.value < 0.0015 ? '10⁻³' : datum.value < 0.015 ? '10⁻²' : datum.value < 0.15 ? '10⁻¹' : format(datum.value, '.1f')"}},"y":{"field":"lo","type":"quantitative","title":null,"scale":{"domain":[-0.0555,0.0445]},"axis":{"values":[-0.04,-0.02,0,0.02,0.04],"labelOverlap":false,"labelExpr":"datum.value == 0 ? '0' : format(datum.value, '.2f')"}},"y2":{"field":"hi"}}},
     {"mark":{"type":"line","strokeWidth":1.6,"clip":true},"encoding":{"x":{"field":"x","type":"quantitative","title":null,"scale":{"type":"log","domain":[0.001,0.01,0.1,0.15,0.2,0.3,0.4,0.6,0.8],"range":[0,46,91.7,96.3,100.8,110,119.2,137.5,155.8]},"axis":{"values":[0.001,0.01,0.1,0.4,0.8],"labelOverlap":false,"labelExpr":"datum.value < 0.0015 ? '10⁻³' : datum.value < 0.015 ? '10⁻²' : datum.value < 0.15 ? '10⁻¹' : format(datum.value, '.1f')"}},"y":{"field":"y","type":"quantitative","title":null,"scale":{"domain":[-0.0555,0.0445]},"axis":{"values":[-0.04,-0.02,0,0.02,0.04],"labelOverlap":false,"labelExpr":"datum.value == 0 ? '0' : format(datum.value, '.2f')"}},
      "stroke":{"field":"s","type":"nominal","scale":{"domain":["JAM17","DSSV09"],"range":["#ff0000","#1f8f1f"]},"legend":null},
      "strokeDash":{"field":"s","type":"nominal","scale":{"domain":["JAM17","DSSV09"],"range":[[1,0],[1.5,1.5]]},"legend":null}}},
     {"data":{"name":"one"},"mark":{"type":"text","font":"Liberation Serif","fontStyle":"italic","fontSize":15,"align":"left","color":"#111"},"encoding":{"x":{"datum":0.0015,"type":"quantitative","title":null,"scale":{"type":"log","domain":[0.001,0.01,0.1,0.15,0.2,0.3,0.4,0.6,0.8],"range":[0,46,91.7,96.3,100.8,110,119.2,137.5,155.8]},"axis":{"values":[0.001,0.01,0.1,0.4,0.8],"labelOverlap":false,"labelExpr":"datum.value < 0.0015 ? '10⁻³' : datum.value < 0.015 ? '10⁻²' : datum.value < 0.15 ? '10⁻¹' : format(datum.value, '.1f')"}},"y":{"datum":-0.048,"type":"quantitative","title":null,"scale":{"domain":[-0.0555,0.0445]},"axis":{"values":[-0.04,-0.02,0,0.02,0.04],"labelOverlap":false,"labelExpr":"datum.value == 0 ? '0' : format(datum.value, '.2f')"}},"text":{"value":"x(Δū − Δd̄)"}}}
    ]}
  ],"spacing":43,"bounds":"flush","resolve":{"scale":{"fill":"independent","stroke":"independent","strokeDash":"independent","color":"independent"}}},
  {"hconcat":[
   {"width":180,"height":107,"data":{"name":"p5"},
    "layer":[
     {"mark":{"type":"area","opacity":0.38,"clip":true},"encoding":{"x":{"field":"x","type":"quantitative","title":"x","scale":{"type":"log","domain":[0.001,0.01,0.1,0.15,0.2,0.3,0.4,0.6,0.8,1],"range":[0,46,91.7,96.3,100.8,110,119.2,137.5,155.8,179]},"axis":{"values":[0.001,0.01,0.1,0.4,0.8],"labelOverlap":false,"labelExpr":"datum.value < 0.0015 ? '10⁻³' : datum.value < 0.015 ? '10⁻²' : datum.value < 0.15 ? '10⁻¹' : format(datum.value, '.1f')","titleX":188,"titleY":20,"titleAlign":"right","titleBaseline":"bottom","titleFontSize":22,"titleFontStyle":"italic"}},"y":{"field":"lo","type":"quantitative","title":null,"scale":{"domain":[-0.0555,0.0445]},"axis":{"values":[-0.04,-0.02,0,0.02,0.04],"labelOverlap":false,"labelExpr":"datum.value == 0 ? '0' : format(datum.value, '.2f')"}},"y2":{"field":"hi"},"fill":{"field":"s","type":"nominal","scale":{"domain":["JAM17","JAM15"],"range":["#ff0000","#0000ff"]},"legend":null}}},
     {"mark":{"type":"line","strokeWidth":1.6,"clip":true},"encoding":{"x":{"field":"x","type":"quantitative","title":"x","scale":{"type":"log","domain":[0.001,0.01,0.1,0.15,0.2,0.3,0.4,0.6,0.8,1],"range":[0,46,91.7,96.3,100.8,110,119.2,137.5,155.8,179]},"axis":{"values":[0.001,0.01,0.1,0.4,0.8],"labelOverlap":false,"labelExpr":"datum.value < 0.0015 ? '10⁻³' : datum.value < 0.015 ? '10⁻²' : datum.value < 0.15 ? '10⁻¹' : format(datum.value, '.1f')","titleX":188,"titleY":20,"titleAlign":"right","titleBaseline":"bottom","titleFontSize":22,"titleFontStyle":"italic"}},"y":{"field":"y","type":"quantitative","title":null,"scale":{"domain":[-0.0555,0.0445]},"axis":{"values":[-0.04,-0.02,0,0.02,0.04],"labelOverlap":false,"labelExpr":"datum.value == 0 ? '0' : format(datum.value, '.2f')"}},
      "stroke":{"field":"s","type":"nominal","scale":{"domain":["JAM17","JAM15","DSSV09","JAM17 + SU(3)"],"range":["#ff0000","#2a2aff","#1f8f1f","#000000"]},"legend":{"orient":"none","legendX":13,"legendY":88,"values":["JAM17 + SU(3)"],"title":null,"symbolType":"stroke","symbolSize":520,"symbolStrokeWidth":1.6,"labelFont":"Liberation Serif","labelFontSize":13,"labelColor":"#222","labelOffset":10}},
      "strokeDash":{"field":"s","type":"nominal","scale":{"domain":["JAM17","JAM15","DSSV09","JAM17 + SU(3)"],"range":[[1,0],[4,2],[1.5,1.5],[6,2,1.5,2]]},"legend":{"orient":"none","legendX":13,"legendY":88,"values":["JAM17 + SU(3)"],"title":null,"symbolType":"stroke","symbolSize":520,"symbolStrokeWidth":1.6,"labelFont":"Liberation Serif","labelFontSize":13,"labelColor":"#222","labelOffset":10}}}},
     {"data":{"name":"one"},"mark":{"type":"text","font":"Liberation Serif","fontStyle":"italic","fontSize":15,"align":"left","color":"#111"},"encoding":{"x":{"datum":0.00157,"type":"quantitative","title":"x","scale":{"type":"log","domain":[0.001,0.01,0.1,0.15,0.2,0.3,0.4,0.6,0.8,1],"range":[0,46,91.7,96.3,100.8,110,119.2,137.5,155.8,179]},"axis":{"values":[0.001,0.01,0.1,0.4,0.8],"labelOverlap":false,"labelExpr":"datum.value < 0.0015 ? '10⁻³' : datum.value < 0.015 ? '10⁻²' : datum.value < 0.15 ? '10⁻¹' : format(datum.value, '.1f')","titleX":188,"titleY":20,"titleAlign":"right","titleBaseline":"bottom","titleFontSize":22,"titleFontStyle":"italic"}},"y":{"datum":0.031,"type":"quantitative","title":null,"scale":{"domain":[-0.0555,0.0445]},"axis":{"values":[-0.04,-0.02,0,0.02,0.04],"labelOverlap":false,"labelExpr":"datum.value == 0 ? '0' : format(datum.value, '.2f')"}},"text":{"value":"xΔs⁺"}}}
    ]},
   {"width":156,"height":107,"data":{"name":"p6"},
    "layer":[
     {"mark":{"type":"area","opacity":0.38,"clip":true,"color":"#ff0000"},"encoding":{"x":{"field":"x","type":"quantitative","title":null,"scale":{"type":"log","domain":[0.001,0.01,0.1,0.15,0.2,0.3,0.4,0.6,0.8],"range":[0,46,91.7,96.3,100.8,110,119.2,137.5,155.8]},"axis":{"values":[0.001,0.01,0.1,0.4,0.8],"labelOverlap":false,"labelExpr":"datum.value < 0.0015 ? '10⁻³' : datum.value < 0.015 ? '10⁻²' : datum.value < 0.15 ? '10⁻¹' : format(datum.value, '.1f')"}},"y":{"field":"lo","type":"quantitative","title":null,"scale":{"domain":[-0.138,0.108]},"axis":{"values":[-0.1,-0.05,0,0.05,0.1],"format":"~g","labelOverlap":false}},"y2":{"field":"hi"}}},
     {"mark":{"type":"line","strokeWidth":1.6,"clip":true,"color":"#ff0000"},"encoding":{"x":{"field":"x","type":"quantitative","title":null,"scale":{"type":"log","domain":[0.001,0.01,0.1,0.15,0.2,0.3,0.4,0.6,0.8],"range":[0,46,91.7,96.3,100.8,110,119.2,137.5,155.8]},"axis":{"values":[0.001,0.01,0.1,0.4,0.8],"labelOverlap":false,"labelExpr":"datum.value < 0.0015 ? '10⁻³' : datum.value < 0.015 ? '10⁻²' : datum.value < 0.15 ? '10⁻¹' : format(datum.value, '.1f')"}},"y":{"field":"y","type":"quantitative","title":null,"scale":{"domain":[-0.138,0.108]},"axis":{"values":[-0.1,-0.05,0,0.05,0.1],"format":"~g","labelOverlap":false}}}},
     {"data":{"name":"one"},"mark":{"type":"text","font":"Liberation Serif","fontStyle":"italic","fontSize":15,"align":"left","color":"#111"},"encoding":{"x":{"datum":0.0015,"type":"quantitative","title":null,"scale":{"type":"log","domain":[0.001,0.01,0.1,0.15,0.2,0.3,0.4,0.6,0.8],"range":[0,46,91.7,96.3,100.8,110,119.2,137.5,155.8]},"axis":{"values":[0.001,0.01,0.1,0.4,0.8],"labelOverlap":false,"labelExpr":"datum.value < 0.0015 ? '10⁻³' : datum.value < 0.015 ? '10⁻²' : datum.value < 0.15 ? '10⁻¹' : format(datum.value, '.1f')"}},"y":{"datum":0.073,"type":"quantitative","title":null,"scale":{"domain":[-0.138,0.108]},"axis":{"values":[-0.1,-0.05,0,0.05,0.1],"format":"~g","labelOverlap":false}},"text":{"value":"xΔs⁻"}}}
    ]}
  ],"spacing":43,"bounds":"flush","resolve":{"scale":{"fill":"independent","stroke":"independent","strokeDash":"independent","color":"independent"}}}
 ],"spacing":8,"resolve":{"scale":{"fill":"independent","stroke":"independent","strokeDash":"independent","color":"independent"}}},
 {"vconcat":[
  {"width":1,"height":1,"view":{"stroke":null},"data":{"name":"one"},"mark":{"type":"rect","opacity":0},"encoding":{}},
  {"vconcat":[
   {"hconcat":[
    {"width":189,"height":128,"data":{"name":"p7"},
     "layer":[
      {"mark":{"type":"area","color":"#ffff80","clip":true},"encoding":{"x":{"field":"x","type":"quantitative","title":"x","scale":{"domain":[0,0.82]},"axis":{"values":[0,0.2,0.4,0.6],"format":"~g","labelOverlap":false,"labelFontWeight":"bold","titleX":189,"titleY":16,"titleAlign":"right","titleBaseline":"alphabetic","titleFontSize":24,"titleFontStyle":"italic","titleFontWeight":"bold"}},"y":{"field":"ylo","type":"quantitative","title":null,"scale":{"domain":[-3.2,1.52]},"axis":{"values":[-3,-2,-1,0,1],"format":"~g","labelOverlap":false,"labelFontWeight":"bold"}},"y2":{"field":"yhi"},"detail":{"field":"s"}}},
      {"mark":{"type":"area","clip":true},"encoding":{"x":{"field":"x","type":"quantitative","title":"x","scale":{"domain":[0,0.82]},"axis":{"values":[0,0.2,0.4,0.6],"format":"~g","labelOverlap":false,"labelFontWeight":"bold","titleX":189,"titleY":16,"titleAlign":"right","titleBaseline":"alphabetic","titleFontSize":24,"titleFontStyle":"italic","titleFontWeight":"bold"}},"y":{"field":"lo","type":"quantitative","title":null,"scale":{"domain":[-3.2,1.52]},"axis":{"values":[-3,-2,-1,0,1],"format":"~g","labelOverlap":false,"labelFontWeight":"bold"}},"y2":{"field":"hi"},"fill":{"field":"s","type":"nominal","scale":{"domain":["u","d"],"range":["#f7a55a","#b4b4f5"]},"legend":null}}},
      {"data":{"values":[{"x":0,"x2":0.82,"y":0}]},"mark":{"type":"rule","color":"#8a8a8a","strokeWidth":1.2,"clip":true},"encoding":{"x":{"field":"x","type":"quantitative","title":"x","scale":{"domain":[0,0.82]},"axis":{"values":[0,0.2,0.4,0.6],"format":"~g","labelOverlap":false,"labelFontWeight":"bold","titleX":189,"titleY":16,"titleAlign":"right","titleBaseline":"alphabetic","titleFontSize":24,"titleFontStyle":"italic","titleFontWeight":"bold"}},"x2":{"field":"x2"},"y":{"field":"y","type":"quantitative","title":null,"scale":{"domain":[-3.2,1.52]},"axis":{"values":[-3,-2,-1,0,1],"format":"~g","labelOverlap":false,"labelFontWeight":"bold"}}}},
      {"mark":{"type":"line","strokeWidth":1.5,"clip":true},"encoding":{"x":{"field":"x","type":"quantitative","title":"x","scale":{"domain":[0,0.82]},"axis":{"values":[0,0.2,0.4,0.6],"format":"~g","labelOverlap":false,"labelFontWeight":"bold","titleX":189,"titleY":16,"titleAlign":"right","titleBaseline":"alphabetic","titleFontSize":24,"titleFontStyle":"italic","titleFontWeight":"bold"}},"y":{"field":"y","type":"quantitative","title":null,"scale":{"domain":[-3.2,1.52]},"axis":{"values":[-3,-2,-1,0,1],"format":"~g","labelOverlap":false,"labelFontWeight":"bold"}},"stroke":{"field":"s","type":"nominal","scale":{"domain":["u","d"],"range":["#ff0000","#0000ff"]},"legend":null}}},
      {"data":{"values":[{"x":0,"x2":0.29,"y":-3}]},"mark":{"type":"rule","color":"#999999","strokeWidth":2,"strokeDash":[6,4],"clip":true},"encoding":{"x":{"field":"x","type":"quantitative","title":"x","scale":{"domain":[0,0.82]},"axis":{"values":[0,0.2,0.4,0.6],"format":"~g","labelOverlap":false,"labelFontWeight":"bold","titleX":189,"titleY":16,"titleAlign":"right","titleBaseline":"alphabetic","titleFontSize":24,"titleFontStyle":"italic","titleFontWeight":"bold"}},"x2":{"field":"x2"},"y":{"field":"y","type":"quantitative","title":null,"scale":{"domain":[-3.2,1.52]},"axis":{"values":[-3,-2,-1,0,1],"format":"~g","labelOverlap":false,"labelFontWeight":"bold"}}}},
      {"data":{"name":"one"},"mark":{"type":"text","font":"DejaVu Serif","fontStyle":"italic","fontWeight":"bold","fontSize":18,"align":"left","color":"#ff1a1a"},"encoding":{"x":{"datum":0.54,"type":"quantitative","title":"x","scale":{"domain":[0,0.82]},"axis":{"values":[0,0.2,0.4,0.6],"format":"~g","labelOverlap":false,"labelFontWeight":"bold","titleX":189,"titleY":16,"titleAlign":"right","titleBaseline":"alphabetic","titleFontSize":24,"titleFontStyle":"italic","titleFontWeight":"bold"}},"y":{"datum":0.69,"type":"quantitative","title":null,"scale":{"domain":[-3.2,1.52]},"axis":{"values":[-3,-2,-1,0,1],"format":"~g","labelOverlap":false,"labelFontWeight":"bold"}},"text":{"value":"h"}}},
      {"data":{"name":"one"},"mark":{"type":"text","font":"DejaVu Serif","fontStyle":"italic","fontWeight":"bold","fontSize":13,"align":"left","color":"#ff1a1a","dx":13,"dy":-8},"encoding":{"x":{"datum":0.54,"type":"quantitative","title":"x","scale":{"domain":[0,0.82]},"axis":{"values":[0,0.2,0.4,0.6],"format":"~g","labelOverlap":false,"labelFontWeight":"bold","titleX":189,"titleY":16,"titleAlign":"right","titleBaseline":"alphabetic","titleFontSize":24,"titleFontStyle":"italic","titleFontWeight":"bold"}},"y":{"datum":0.69,"type":"quantitative","title":null,"scale":{"domain":[-3.2,1.52]},"axis":{"values":[-3,-2,-1,0,1],"format":"~g","labelOverlap":false,"labelFontWeight":"bold"}},"text":{"value":"u"}}},
      {"data":{"name":"one"},"mark":{"type":"text","font":"DejaVu Serif","fontWeight":"bold","fontSize":12,"align":"left","color":"#ff1a1a","dx":13,"dy":6},"encoding":{"x":{"datum":0.54,"type":"quantitative","title":"x","scale":{"domain":[0,0.82]},"axis":{"values":[0,0.2,0.4,0.6],"format":"~g","labelOverlap":false,"labelFontWeight":"bold","titleX":189,"titleY":16,"titleAlign":"right","titleBaseline":"alphabetic","titleFontSize":24,"titleFontStyle":"italic","titleFontWeight":"bold"}},"y":{"datum":0.69,"type":"quantitative","title":null,"scale":{"domain":[-3.2,1.52]},"axis":{"values":[-3,-2,-1,0,1],"format":"~g","labelOverlap":false,"labelFontWeight":"bold"}},"text":{"value":"1"}}},
      {"data":{"name":"one"},"mark":{"type":"text","font":"DejaVu Serif","fontStyle":"italic","fontWeight":"bold","fontSize":18,"align":"left","color":"#1a1aee"},"encoding":{"x":{"datum":0.387,"type":"quantitative","title":"x","scale":{"domain":[0,0.82]},"axis":{"values":[0,0.2,0.4,0.6],"format":"~g","labelOverlap":false,"labelFontWeight":"bold","titleX":189,"titleY":16,"titleAlign":"right","titleBaseline":"alphabetic","titleFontSize":24,"titleFontStyle":"italic","titleFontWeight":"bold"}},"y":{"datum":-1.73,"type":"quantitative","title":null,"scale":{"domain":[-3.2,1.52]},"axis":{"values":[-3,-2,-1,0,1],"format":"~g","labelOverlap":false,"labelFontWeight":"bold"}},"text":{"value":"h"}}},
      {"data":{"name":"one"},"mark":{"type":"text","font":"DejaVu Serif","fontStyle":"italic","fontWeight":"bold","fontSize":13,"align":"left","color":"#1a1aee","dx":13,"dy":-9},"encoding":{"x":{"datum":0.387,"type":"quantitative","title":"x","scale":{"domain":[0,0.82]},"axis":{"values":[0,0.2,0.4,0.6],"format":"~g","labelOverlap":false,"labelFontWeight":"bold","titleX":189,"titleY":16,"titleAlign":"right","titleBaseline":"alphabetic","titleFontSize":24,"titleFontStyle":"italic","titleFontWeight":"bold"}},"y":{"datum":-1.73,"type":"quantitative","title":null,"scale":{"domain":[-3.2,1.52]},"axis":{"values":[-3,-2,-1,0,1],"format":"~g","labelOverlap":false,"labelFontWeight":"bold"}},"text":{"value":"d"}}},
      {"data":{"name":"one"},"mark":{"type":"text","font":"DejaVu Serif","fontWeight":"bold","fontSize":12,"align":"left","color":"#1a1aee","dx":13,"dy":6},"encoding":{"x":{"datum":0.387,"type":"quantitative","title":"x","scale":{"domain":[0,0.82]},"axis":{"values":[0,0.2,0.4,0.6],"format":"~g","labelOverlap":false,"labelFontWeight":"bold","titleX":189,"titleY":16,"titleAlign":"right","titleBaseline":"alphabetic","titleFontSize":24,"titleFontStyle":"italic","titleFontWeight":"bold"}},"y":{"datum":-1.73,"type":"quantitative","title":null,"scale":{"domain":[-3.2,1.52]},"axis":{"values":[-3,-2,-1,0,1],"format":"~g","labelOverlap":false,"labelFontWeight":"bold"}},"text":{"value":"1"}}}
     ]},
    {"width":185,"height":128,"data":{"name":"p8"},
     "layer":[
      {"mark":{"type":"area","color":"#ffff80","clip":true},"encoding":{"x":{"field":"x","type":"quantitative","title":"z","scale":{"domain":[0.2,0.8]},"axis":{"values":[0.2,0.4,0.6],"format":"~g","labelOverlap":false,"labelFontWeight":"bold","titleX":183,"titleY":17,"titleAlign":"right","titleBaseline":"alphabetic","titleFontSize":24,"titleFontStyle":"italic","titleFontWeight":"bold"}},"y":{"field":"ylo","type":"quantitative","title":null,"scale":{"domain":[-0.506,0.514]},"axis":{"values":[-0.4,-0.2,0,0.2,0.4],"format":"~g","labelOverlap":false,"labelFontWeight":"bold"}},"y2":{"field":"yhi"},"detail":{"field":"s"}}},
      {"mark":{"type":"area","clip":true},"encoding":{"x":{"field":"x","type":"quantitative","title":"z","scale":{"domain":[0.2,0.8]},"axis":{"values":[0.2,0.4,0.6],"format":"~g","labelOverlap":false,"labelFontWeight":"bold","titleX":183,"titleY":17,"titleAlign":"right","titleBaseline":"alphabetic","titleFontSize":24,"titleFontStyle":"italic","titleFontWeight":"bold"}},"y":{"field":"lo","type":"quantitative","title":null,"scale":{"domain":[-0.506,0.514]},"axis":{"values":[-0.4,-0.2,0,0.2,0.4],"format":"~g","labelOverlap":false,"labelFontWeight":"bold"}},"y2":{"field":"hi"},"fill":{"field":"s","type":"nominal","scale":{"domain":["fav","unf"],"range":["#f7a55a","#b4b4f5"]},"legend":null}}},
      {"data":{"values":[{"x":0.2,"x2":0.8,"y":0}]},"mark":{"type":"rule","color":"#8a8a8a","strokeWidth":1.2,"clip":true},"encoding":{"x":{"field":"x","type":"quantitative","title":"z","scale":{"domain":[0.2,0.8]},"axis":{"values":[0.2,0.4,0.6],"format":"~g","labelOverlap":false,"labelFontWeight":"bold","titleX":183,"titleY":17,"titleAlign":"right","titleBaseline":"alphabetic","titleFontSize":24,"titleFontStyle":"italic","titleFontWeight":"bold"}},"x2":{"field":"x2"},"y":{"field":"y","type":"quantitative","title":null,"scale":{"domain":[-0.506,0.514]},"axis":{"values":[-0.4,-0.2,0,0.2,0.4],"format":"~g","labelOverlap":false,"labelFontWeight":"bold"}}}},
      {"mark":{"type":"line","strokeWidth":1.5,"clip":true},"encoding":{"x":{"field":"x","type":"quantitative","title":"z","scale":{"domain":[0.2,0.8]},"axis":{"values":[0.2,0.4,0.6],"format":"~g","labelOverlap":false,"labelFontWeight":"bold","titleX":183,"titleY":17,"titleAlign":"right","titleBaseline":"alphabetic","titleFontSize":24,"titleFontStyle":"italic","titleFontWeight":"bold"}},"y":{"field":"y","type":"quantitative","title":null,"scale":{"domain":[-0.506,0.514]},"axis":{"values":[-0.4,-0.2,0,0.2,0.4],"format":"~g","labelOverlap":false,"labelFontWeight":"bold"}},"stroke":{"field":"s","type":"nominal","scale":{"domain":["fav","unf"],"range":["#ff0000","#0000ff"]},"legend":null}}},
      {"data":{"values":[{"x":0.225,"x2":0.58,"y":-0.45}]},"mark":{"type":"rule","color":"#999999","strokeWidth":2,"strokeDash":[6,4],"clip":true},"encoding":{"x":{"field":"x","type":"quantitative","title":"z","scale":{"domain":[0.2,0.8]},"axis":{"values":[0.2,0.4,0.6],"format":"~g","labelOverlap":false,"labelFontWeight":"bold","titleX":183,"titleY":17,"titleAlign":"right","titleBaseline":"alphabetic","titleFontSize":24,"titleFontStyle":"italic","titleFontWeight":"bold"}},"x2":{"field":"x2"},"y":{"field":"y","type":"quantitative","title":null,"scale":{"domain":[-0.506,0.514]},"axis":{"values":[-0.4,-0.2,0,0.2,0.4],"format":"~g","labelOverlap":false,"labelFontWeight":"bold"}}}},
      {"data":{"name":"one"},"mark":{"type":"text","font":"DejaVu Serif","fontStyle":"italic","fontWeight":"bold","fontSize":16,"align":"left","color":"#ff1a1a"},"encoding":{"x":{"datum":0.555,"type":"quantitative","title":"z","scale":{"domain":[0.2,0.8]},"axis":{"values":[0.2,0.4,0.6],"format":"~g","labelOverlap":false,"labelFontWeight":"bold","titleX":183,"titleY":17,"titleAlign":"right","titleBaseline":"alphabetic","titleFontSize":24,"titleFontStyle":"italic","titleFontWeight":"bold"}},"y":{"datum":0.31,"type":"quantitative","title":null,"scale":{"domain":[-0.506,0.514]},"axis":{"values":[-0.4,-0.2,0,0.2,0.4],"format":"~g","labelOverlap":false,"labelFontWeight":"bold"}},"text":{"value":"zH"}}},
      {"data":{"name":"one"},"mark":{"type":"text","font":"DejaVu Serif","fontWeight":"bold","fontSize":11,"align":"left","color":"#ff1a1a","dx":24,"dy":-10},"encoding":{"x":{"datum":0.555,"type":"quantitative","title":"z","scale":{"domain":[0.2,0.8]},"axis":{"values":[0.2,0.4,0.6],"format":"~g","labelOverlap":false,"labelFontWeight":"bold","titleX":183,"titleY":17,"titleAlign":"right","titleBaseline":"alphabetic","titleFontSize":24,"titleFontStyle":"italic","titleFontWeight":"bold"}},"y":{"datum":0.31,"type":"quantitative","title":null,"scale":{"domain":[-0.506,0.514]},"axis":{"values":[-0.4,-0.2,0,0.2,0.4],"format":"~g","labelOverlap":false,"labelFontWeight":"bold"}},"text":{"value":"⊥(1)"}}},
      {"data":{"name":"one"},"mark":{"type":"text","font":"DejaVu Serif","fontWeight":"bold","fontSize":11,"align":"left","color":"#ff1a1a","dx":23,"dy":5},"encoding":{"x":{"datum":0.555,"type":"quantitative","title":"z","scale":{"domain":[0.2,0.8]},"axis":{"values":[0.2,0.4,0.6],"format":"~g","labelOverlap":false,"labelFontWeight":"bold","titleX":183,"titleY":17,"titleAlign":"right","titleBaseline":"alphabetic","titleFontSize":24,"titleFontStyle":"italic","titleFontWeight":"bold"}},"y":{"datum":0.31,"type":"quantitative","title":null,"scale":{"domain":[-0.506,0.514]},"axis":{"values":[-0.4,-0.2,0,0.2,0.4],"format":"~g","labelOverlap":false,"labelFontWeight":"bold"}},"text":{"value":"1(fav)"}}},
      {"data":{"name":"one"},"mark":{"type":"text","font":"DejaVu Serif","fontStyle":"italic","fontWeight":"bold","fontSize":16,"align":"left","color":"#1a1aee"},"encoding":{"x":{"datum":0.485,"type":"quantitative","title":"z","scale":{"domain":[0.2,0.8]},"axis":{"values":[0.2,0.4,0.6],"format":"~g","labelOverlap":false,"labelFontWeight":"bold","titleX":183,"titleY":17,"titleAlign":"right","titleBaseline":"alphabetic","titleFontSize":24,"titleFontStyle":"italic","titleFontWeight":"bold"}},"y":{"datum":-0.275,"type":"quantitative","title":null,"scale":{"domain":[-0.506,0.514]},"axis":{"values":[-0.4,-0.2,0,0.2,0.4],"format":"~g","labelOverlap":false,"labelFontWeight":"bold"}},"text":{"value":"zH"}}},
      {"data":{"name":"one"},"mark":{"type":"text","font":"DejaVu Serif","fontWeight":"bold","fontSize":11,"align":"left","color":"#1a1aee","dx":24,"dy":-10},"encoding":{"x":{"datum":0.485,"type":"quantitative","title":"z","scale":{"domain":[0.2,0.8]},"axis":{"values":[0.2,0.4,0.6],"format":"~g","labelOverlap":false,"labelFontWeight":"bold","titleX":183,"titleY":17,"titleAlign":"right","titleBaseline":"alphabetic","titleFontSize":24,"titleFontStyle":"italic","titleFontWeight":"bold"}},"y":{"datum":-0.275,"type":"quantitative","title":null,"scale":{"domain":[-0.506,0.514]},"axis":{"values":[-0.4,-0.2,0,0.2,0.4],"format":"~g","labelOverlap":false,"labelFontWeight":"bold"}},"text":{"value":"⊥(1)"}}},
      {"data":{"name":"one"},"mark":{"type":"text","font":"DejaVu Serif","fontWeight":"bold","fontSize":11,"align":"left","color":"#1a1aee","dx":23,"dy":5},"encoding":{"x":{"datum":0.485,"type":"quantitative","title":"z","scale":{"domain":[0.2,0.8]},"axis":{"values":[0.2,0.4,0.6],"format":"~g","labelOverlap":false,"labelFontWeight":"bold","titleX":183,"titleY":17,"titleAlign":"right","titleBaseline":"alphabetic","titleFontSize":24,"titleFontStyle":"italic","titleFontWeight":"bold"}},"y":{"datum":-0.275,"type":"quantitative","title":null,"scale":{"domain":[-0.506,0.514]},"axis":{"values":[-0.4,-0.2,0,0.2,0.4],"format":"~g","labelOverlap":false,"labelFontWeight":"bold"}},"text":{"value":"1(unf)"}}}
     ]}
   ],"spacing":41,"bounds":"flush","resolve":{"scale":{"fill":"independent","stroke":"independent","strokeDash":"independent","color":"independent"}}},
   {"hconcat":[
    {"width":189,"height":119,
     "layer":[
      {"data":{"name":"cont"},"mark":{"type":"rect"},"encoding":{"x":{"field":"u","type":"quantitative","bin":{"binned":true,"step":0.05},"title":"δu","scale":{"domain":[0,0.55]},"axis":{"values":[0,0.2,0.4],"format":"~g","labelOverlap":false,"labelFontWeight":"bold","titleX":189,"titleY":16,"titleAlign":"right","titleBaseline":"alphabetic","titleFontSize":16,"titleFontStyle":"italic","titleFontWeight":"bold"}},"y":{"field":"d","type":"quantitative","bin":{"binned":true,"step":0.1},"title":"δd","scale":{"domain":[-1.2,0]},"axis":{"values":[-1.2,-0.8,-0.4,0],"format":"~g","labelOverlap":false,"labelFontWeight":"bold","titleX":-24,"titleY":0,"titleAlign":"right","titleBaseline":"middle","titleFontSize":16,"titleFontStyle":"italic","titleFontWeight":"bold"}},"color":{"field":"v","type":"ordinal","scale":{"domain":[-3,-2,-1,0,1,2,3,4],"range":["#ea6a4f","#f6ab90","#fde0d2","#ffffff","#dce9f5","#a9cce6","#5c9fd0","#2a6fb0"]},"legend":null}}},
      {"data":{"name":"cross"},"mark":{"type":"rule","strokeWidth":2},"encoding":{"x":{"field":"x","type":"quantitative","title":"δu"},"x2":{"field":"x2"},"y":{"field":"y","type":"quantitative","title":"δd"},"y2":{"field":"y2"},"stroke":{"field":"c","type":"nominal","scale":{"domain":["SIDIS","lattice"],"range":["#2424ee","#ff1010"]},"legend":null}}},
      {"data":{"name":"one"},"mark":{"type":"text","fontWeight":"bold","fontSize":12,"color":"#2424ee"},"encoding":{"x":{"datum":0.252},"y":{"datum":-0.11},"text":{"value":"SIDIS"}}},
      {"data":{"name":"one"},"mark":{"type":"text","fontWeight":"bold","fontSize":12,"color":"#ff1010"},"encoding":{"x":{"datum":0.169},"y":{"datum":-0.975},"text":{"value":"SIDIS+lattice"}}},
      {"data":{"name":"one"},"mark":{"type":"text","fontWeight":"bold","fontSize":13,"color":"#111"},"encoding":{"x":{"datum":0.5},"y":{"datum":-0.145},"text":{"value":"(a)"}}}
     ]},
    {"width":191,"height":119,"data":{"name":"hist"},
     "layer":[
      {"transform":[{"filter":"datum.set == 'SIDIS'"}],"mark":{"type":"bar","stroke":"#808080","strokeWidth":1,"clip":true},"encoding":{"x":{"field":"g","type":"quantitative","bin":{"binned":true,"step":0.05},"title":"gT","scale":{"domain":[0,1.5]},"axis":{"values":[0,0.5,1],"format":"~g","labelOverlap":false,"labelFontWeight":"bold","titleX":191,"titleY":20,"titleAlign":"right","titleBaseline":"alphabetic","titleFontSize":16,"titleFontStyle":"italic","titleFontWeight":"bold"}},"y":{"field":"h","type":"quantitative","title":"normalized yield","scale":{"domain":[0,7.55]},"axis":{"values":[0,2,4,6],"format":"~g","labelOverlap":false,"labelFontWeight":"bold","titleFontSize":14,"titleFontWeight":"bold","titlePadding":2}},"fill":{"field":"set","type":"nominal","scale":{"domain":["SIDIS+lattice","SIDIS"],"range":["#ff3030","#ffff00"]},"legend":{"orient":"none","legendX":8,"legendY":4,"title":null,"symbolType":"M-1.5,-0.6H1.5V0.6H-1.5Z","symbolSize":130,"symbolStrokeColor":"#808080","symbolStrokeWidth":1,"labelFont":"Liberation Serif","labelFontWeight":"bold","labelFontSize":11,"labelColor":"#111"}}}},
      {"transform":[{"filter":"datum.set == 'SIDIS+lattice'"}],"mark":{"type":"bar","stroke":"#808080","strokeWidth":1,"fillOpacity":0.85,"clip":true},"encoding":{"x":{"field":"g","type":"quantitative","bin":{"binned":true,"step":0.05},"title":"gT","scale":{"domain":[0,1.5]},"axis":{"values":[0,0.5,1],"format":"~g","labelOverlap":false,"labelFontWeight":"bold","titleX":191,"titleY":20,"titleAlign":"right","titleBaseline":"alphabetic","titleFontSize":16,"titleFontStyle":"italic","titleFontWeight":"bold"}},"y":{"field":"h","type":"quantitative","title":"normalized yield","scale":{"domain":[0,7.55]},"axis":{"values":[0,2,4,6],"format":"~g","labelOverlap":false,"labelFontWeight":"bold","titleFontSize":14,"titleFontWeight":"bold","titlePadding":2}},"fill":{"field":"set","type":"nominal"}}},
      {"data":{"name":"one"},"mark":{"type":"text","fontWeight":"bold","fontSize":13,"color":"#111"},"encoding":{"x":{"datum":1.38},"y":{"datum":6.49},"text":{"value":"(b)"}}}
     ]}
   ],"spacing":32,"bounds":"flush","resolve":{"scale":{"fill":"independent","stroke":"independent","strokeDash":"independent","color":"independent"}},"title":{"text":"Nested Sampling, Lin et al (2018)","orient":"bottom","anchor":"middle","font":"Liberation Sans","fontSize":24,"fontWeight":"normal","color":"#1a1a1a","offset":10,"dx":-3}}
  ],"spacing":31,"resolve":{"scale":{"fill":"independent","stroke":"independent","strokeDash":"independent","color":"independent"}}}
 ],"spacing":4,"resolve":{"scale":{"fill":"independent","stroke":"independent","strokeDash":"independent","color":"independent"}}}
],"spacing":27,"resolve":{"scale":{"fill":"independent","stroke":"independent","strokeDash":"independent","color":"independent"}}
}
